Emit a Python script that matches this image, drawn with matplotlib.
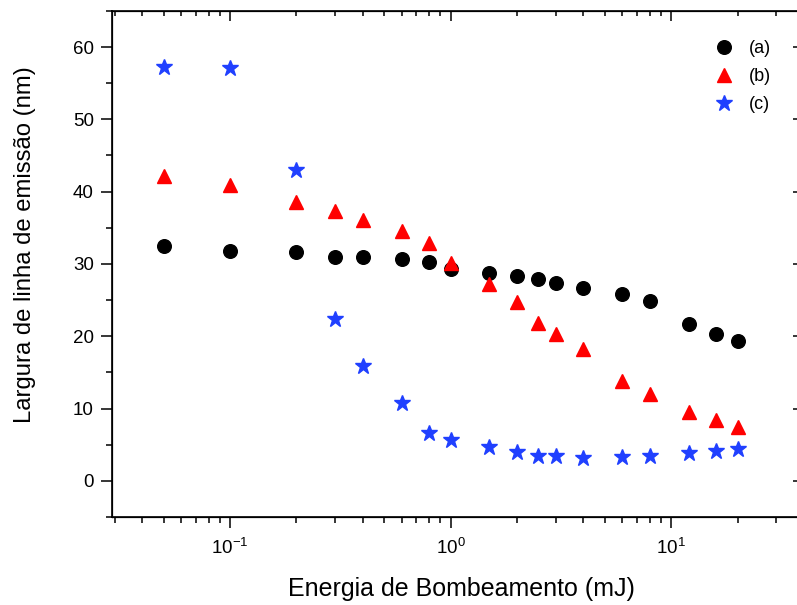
import numpy as np
import matplotlib
matplotlib.use('Agg')
import matplotlib.pyplot as plt
from matplotlib.ticker import MultipleLocator, LogLocator, NullLocator, NullFormatter

plt.rcParams['font.family'] = ['Liberation Sans', 'DejaVu Sans']
plt.rcParams['mathtext.fontset'] = 'custom'
plt.rcParams['mathtext.rm'] = 'Liberation Sans'
plt.rcParams['mathtext.it'] = 'Liberation Sans:italic'
plt.rcParams['axes.unicode_minus'] = False

# energia de bombeamento (mJ)
energia = [0.05, 0.1, 0.2, 0.3, 0.4, 0.6, 0.8, 1.0, 1.5, 2, 2.5, 3, 4, 6, 8, 12, 16, 20]

largura_a = [32.5, 31.8, 31.7, 31.0, 31.0, 30.7, 30.3, 29.3, 28.8, 28.3, 27.9, 27.4,
             26.7, 25.9, 24.9, 21.7, 20.3, 19.4]
largura_b = [42.2, 40.9, 38.6, 37.3, 36.1, 34.6, 32.9, 30.1, 27.2, 24.7, 21.8, 20.3,
             18.2, 13.8, 12.0, 9.5, 8.4, 7.5]
largura_c = [57.2, 57.1, 43.0, 22.4, 15.9, 10.8, 6.6, 5.7, 4.7, 4.0, 3.5, 3.5,
             3.2, 3.3, 3.5, 3.9, 4.1, 4.4]

XLIM = (0.0292, 38.0)
YLIM = (-5, 65)


def main():
    fig = plt.figure(figsize=(7.97, 6.05), dpi=100)
    ax = fig.add_axes([0.1405, 0.1455, 0.862, 0.8365])

    ax.plot(energia, largura_a, 'o', color='black', markersize=9.8, label='(a)')
    ax.plot(energia, largura_b, '^', color='#ff0000', markersize=10.5, label='(b)')
    ax.plot(energia, largura_c, '*', color='#2040ff', markersize=12, label='(c)')

    ax.set_xscale('log')
    ax.set_xlim(*XLIM)
    ax.set_ylim(*YLIM)
    ax.yaxis.set_major_locator(MultipleLocator(10))
    ax.yaxis.set_minor_locator(MultipleLocator(5))
    ax.xaxis.set_major_locator(LogLocator(base=10))
    ax.xaxis.set_minor_locator(LogLocator(base=10, subs=np.arange(2, 10)))
    ax.xaxis.set_minor_formatter(NullFormatter())

    ax.tick_params(axis='both', which='major', direction='out', length=8, width=1.1,
                   labelsize=13.5, top=False, right=False)
    ax.tick_params(axis='both', which='minor', direction='out', length=4, width=1.1,
                   top=False, right=False)
    ax.tick_params(axis='x', which='major', pad=7)
    ax.tick_params(axis='y', which='major', pad=5)
    for sp in ax.spines.values():
        sp.set_linewidth(1.2)

    # ticks internos no topo e na direita
    ax_top = ax.twiny()
    ax_top.set_xscale('log')
    ax_top.set_xlim(*XLIM)
    ax_top.xaxis.set_major_locator(LogLocator(base=10))
    ax_top.xaxis.set_minor_locator(LogLocator(base=10, subs=np.arange(2, 10)))
    ax_top.tick_params(axis='x', which='major', direction='in', length=7, width=1.1,
                       labeltop=False)
    ax_top.tick_params(axis='x', which='minor', direction='in', length=3.5, width=1.1)
    ax_top.xaxis.set_minor_formatter(NullFormatter())

    ax_right = ax.twinx()
    ax_right.set_ylim(*YLIM)
    ax_right.yaxis.set_major_locator(MultipleLocator(10))
    ax_right.yaxis.set_minor_locator(NullLocator())
    ax_right.tick_params(axis='y', which='major', direction='in', length=4, width=1.1,
                         labelright=False)

    ax.set_xlabel('Energia de Bombeamento (mJ)', fontsize=18, labelpad=12)
    ax.set_ylabel('Largura de linha de emissão (nm)', fontsize=17.2)
    ax.xaxis.set_label_coords(0.508, -0.118)
    ax.yaxis.set_label_coords(-0.111, 0.538)

    ax.legend(loc='upper left', bbox_to_anchor=(0.864, 0.942), frameon=False,
              fontsize=13, handletextpad=0.4, labelspacing=0.6, numpoints=1,
              borderpad=0, borderaxespad=0)

    plt.savefig('out.png', dpi=100)


if __name__ == '__main__':
    main()
